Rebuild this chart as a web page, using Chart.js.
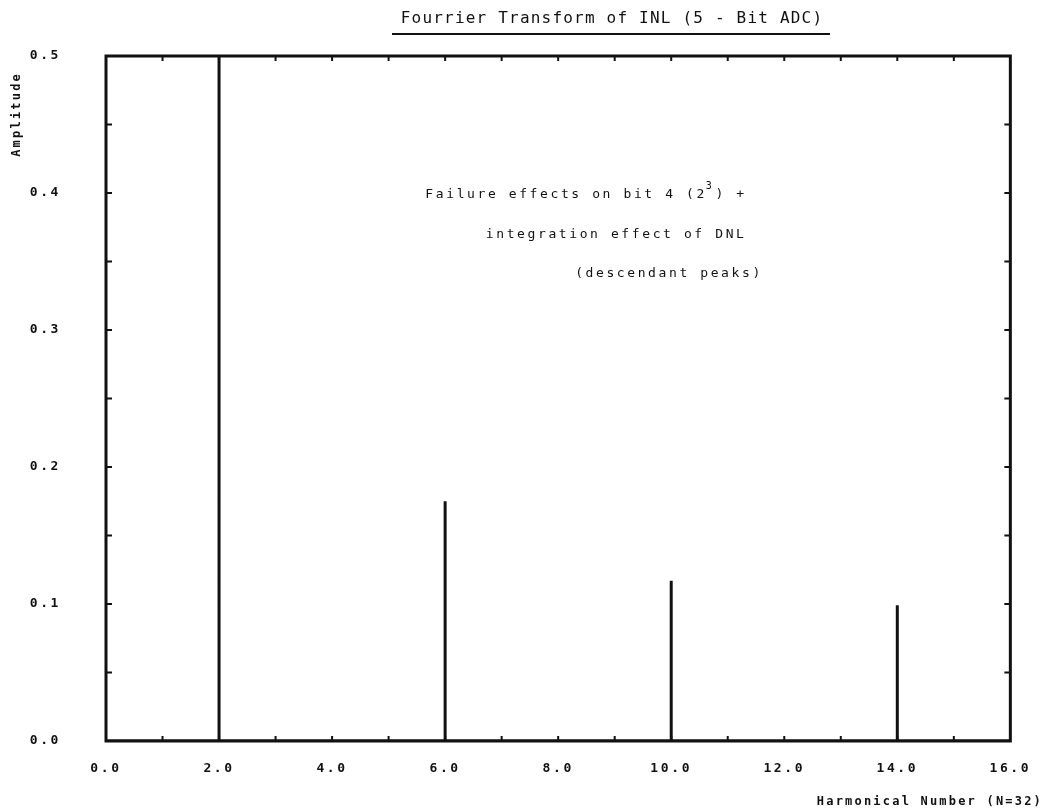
<!DOCTYPE html>
<html>
<head>
<meta charset="utf-8">
<script src="https://cdn.jsdelivr.net/npm/chart.js@4.4.1/dist/chart.umd.min.js"></script>
<style>
  html, body { margin: 0; padding: 0; background: #ffffff; }
  #wrap { width: 1046px; height: 812px; position: relative; }
</style>
</head>
<body>
<div id="wrap"><canvas id="c" width="1046" height="812"></canvas></div>
<script>
// ---- data ----
const harmonics = [2, 6, 10, 14];
const amplitudes = [0.5, 0.175, 0.117, 0.099];
const xTickValues = [0, 2, 4, 6, 8, 10, 12, 14, 16];
const yTickValues = [0, 0.1, 0.2, 0.3, 0.4, 0.5];
const titleText = 'Fourrier Transform of INL (5 - Bit ADC)';
const xTitleText = 'Harmonical Number (N=32)';
const yTitleText = 'Amplitude';
const noteLines = ['Failure effects on bit 4 (2', 'integration effect of DNL', '(descendant peaks)'];

const FONT = '"DejaVu Sans Mono", monospace';
const INK = '#111111';

// spikes as a single line returning to the baseline
const spikePoints = [{x: 0, y: 0}];
harmonics.forEach((h, i) => {
  spikePoints.push({x: h, y: 0}, {x: h, y: amplitudes[i]}, {x: h, y: 0});
});
spikePoints.push({x: 16, y: 0});

const decor = {
  id: 'decor',
  beforeDraw(chart) {
    chart.ctx.letterSpacing = '2.6px';
  },
  afterDraw(chart) {
    const ctx = chart.ctx;
    const a = chart.chartArea;
    const xs = chart.scales.x, ys = chart.scales.y;
    ctx.save();
    ctx.fillStyle = INK;
    ctx.strokeStyle = INK;

    // frame
    ctx.lineWidth = 3;
    ctx.strokeRect(a.left, a.top, a.right - a.left, a.bottom - a.top);

    // inside ticks
    ctx.lineWidth = 2;
    for (let v = 1; v < 16; v++) {
      const px = xs.getPixelForValue(v);
      ctx.beginPath();
      ctx.moveTo(px, a.bottom); ctx.lineTo(px, a.bottom - 5);
      ctx.moveTo(px, a.top); ctx.lineTo(px, a.top + 5);
      ctx.stroke();
    }
    for (let k = 1; k < 10; k++) {
      const py = ys.getPixelForValue(k * 0.05);
      ctx.beginPath();
      ctx.moveTo(a.left, py); ctx.lineTo(a.left + 6, py);
      ctx.moveTo(a.right, py); ctx.lineTo(a.right - 6, py);
      ctx.stroke();
    }

    // title + underline
    ctx.letterSpacing = '1.2px';
    ctx.font = '16px ' + FONT;
    ctx.textAlign = 'center';
    ctx.textBaseline = 'alphabetic';
    ctx.fillText(titleText, 612, 23);
    ctx.lineWidth = 2;
    ctx.beginPath();
    ctx.moveTo(392, 34); ctx.lineTo(830, 34);
    ctx.stroke();

    // annotation
    ctx.letterSpacing = '2.6px';
    ctx.font = '13px ' + FONT;
    ctx.textAlign = 'left';
    const l1x = xs.getPixelForValue(5.65), l1y = ys.getPixelForValue(0.396);
    ctx.fillText(noteLines[0], l1x, l1y);
    const w = ctx.measureText(noteLines[0]).width;
    ctx.font = '10px ' + FONT;
    ctx.fillText('3', l1x + w - 1, l1y - 9);
    const w3 = ctx.measureText('3').width;
    ctx.font = '13px ' + FONT;
    ctx.fillText(') +', l1x + w + w3, l1y);
    ctx.fillText(noteLines[1], xs.getPixelForValue(6.72), ys.getPixelForValue(0.367));
    ctx.fillText(noteLines[2], xs.getPixelForValue(8.3), ys.getPixelForValue(0.339));

    // axis titles
    ctx.letterSpacing = '2.2px';
    ctx.font = 'bold 12px ' + FONT;
    ctx.textAlign = 'right';
    ctx.fillText(xTitleText, 1043, 805);
    ctx.save();
    ctx.translate(17, 72);
    ctx.rotate(-Math.PI / 2);
    ctx.textAlign = 'right';
    ctx.textBaseline = 'middle';
    ctx.fillText(yTitleText, 0, 0);
    ctx.restore();

    ctx.restore();
  }
};

new Chart(document.getElementById('c'), {
  type: 'line',
  data: {
    datasets: [{
      data: spikePoints,
      borderColor: INK,
      borderWidth: 3,
      pointRadius: 0,
      tension: 0,
      fill: false
    }]
  },
  options: {
    responsive: false,
    animation: false,
    events: [],
    layout: { padding: { top: 56, right: 30, left: 0, bottom: 0 } },
    plugins: { legend: { display: false }, tooltip: { enabled: false }, title: { display: false } },
    scales: {
      x: {
        type: 'linear', min: 0, max: 16,
        afterBuildTicks(s) { s.ticks = xTickValues.map(v => ({value: v})); },
        afterFit(s) { s.height = 812 - 741; },
        grid: { display: false, drawTicks: false },
        border: { display: false },
        ticks: {
          padding: 20, color: INK,
          font: { family: FONT, size: 13, weight: 'bold' },
          callback: v => Number(v).toFixed(1)
        }
      },
      y: {
        type: 'linear', min: 0, max: 0.5,
        afterBuildTicks(s) { s.ticks = yTickValues.map(v => ({value: v})); },
        afterFit(s) { s.width = 106; },
        grid: { display: false, drawTicks: false },
        border: { display: false },
        ticks: {
          padding: 45, color: INK,
          font: { family: FONT, size: 13, weight: 'bold' },
          callback: v => Number(v).toFixed(1)
        }
      }
    }
  },
  plugins: [decor]
});
</script>
</body>
</html>
